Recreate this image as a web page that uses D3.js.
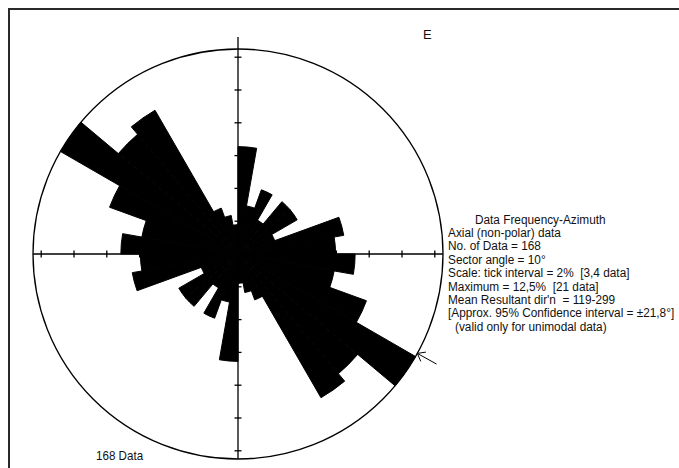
<!DOCTYPE html>
<html>
<head>
<meta charset="utf-8">
<script src="https://cdn.jsdelivr.net/npm/d3@7"></script>
<style>
    body { margin: 0; background: #fff; }
    svg { display: block; }
    text { font-family: "Liberation Sans", Arial, sans-serif; fill: #111; white-space: pre; }
</style>
</head>
<body>
<div id="rose"></div>
<script>
// sectors of 10 degrees, axial data (0-180 mirrored onto 180-360)
const sectorStarts = [0, 10, 20, 30, 40, 50, 60, 70, 80, 90, 100, 110, 120, 130, 140, 150, 160, 170];
const sectorCounts = [11, 5, 7, 4, 7, 7, 4, 11, 10, 12, 10, 14, 21, 16, 17, 5, 4, 3];
const totalData = 168;
const maxPercent = 12.5;
const tickPercents = [2, 4, 6, 8, 10, 12];
const meanDirection = 119;

const infoTitle = "Data Frequency-Azimuth";
const infoLines = [
    "Axial (non-polar) data",
    "No. of Data = 168",
    "Sector angle = 10°",
    "Scale: tick interval = 2%  [3,4 data]",
    "Maximum = 12,5%  [21 data]",
    "Mean Resultant dir'n  = 119-299",
    "[Approx. 95% Confidence interval = ±21,8°]"
];
const infoNote = "(valid only for unimodal data)";

class RoseDiagram {
    constructor(parentElement) {
        this.parentElement = parentElement;
        this.initVis();
    }

    initVis() {
        let vis = this;

        vis.width = 679;
        vis.height = 468;
        vis.cx = 238;
        vis.cy = 254;
        vis.radius = 205;

        vis.svgRoot = d3.select("#" + vis.parentElement)
            .append("svg")
            .attr("width", vis.width)
            .attr("height", vis.height);

        // frame (top and left edges only)
        vis.svgRoot.append("path")
            .attr("d", `M9,${vis.height} L9,9 L${vis.width},9`)
            .attr("fill", "none")
            .attr("stroke", "#2a2a2a")
            .attr("stroke-width", 2);

        vis.svg = vis.svgRoot.append("g")
            .attr("transform", `translate(${vis.cx}, ${vis.cy})`);

        vis.r = d3.scaleLinear()
            .domain([0, maxPercent])
            .range([0, vis.radius]);

        vis.arc = d3.arc()
            .innerRadius(0)
            .outerRadius(d => vis.r(d.percent))
            .startAngle(d => d.start * Math.PI / 180)
            .endAngle(d => (d.start + 10) * Math.PI / 180);

        vis.wrangleData();
    }

    wrangleData() {
        let vis = this;

        vis.displayData = [];
        sectorStarts.forEach((s, i) => {
            let pct = sectorCounts[i] / totalData * 100;
            vis.displayData.push({ start: s, percent: pct });
            vis.displayData.push({ start: s + 180, percent: pct });
        });

        vis.updateVis();
    }

    updateVis() {
        let vis = this;
        const R = vis.radius;

        // petals: thin black outline hides anti-aliasing seams between sectors
        vis.svg.selectAll(".petal")
            .data(vis.displayData)
            .enter()
            .append("path")
            .attr("class", "petal")
            .attr("d", vis.arc)
            .attr("fill", "#000")
            .attr("stroke", "#000")
            .attr("stroke-width", 1)
            .attr("stroke-linejoin", "round");

        vis.svg.append("circle")
            .attr("r", R)
            .attr("fill", "none")
            .attr("stroke", "#000")
            .attr("stroke-width", 1.3);

        // axes
        vis.svg.append("line")
            .attr("x1", 0).attr("x2", 0)
            .attr("y1", -R - 12).attr("y2", R)
            .attr("stroke", "#000").attr("stroke-width", 1.3);
        vis.svg.append("line")
            .attr("x1", -R).attr("x2", R)
            .attr("y1", 0).attr("y2", 0)
            .attr("stroke", "#000").attr("stroke-width", 1.3);

        // ticks along both axes, in both directions
        const tickData = [];
        tickPercents.forEach(p => {
            [-1, 1].forEach(sign => {
                tickData.push({ p: p, sign: sign, vertical: true });
                tickData.push({ p: p, sign: sign, vertical: false });
            });
        });

        vis.svg.selectAll(".tick")
            .data(tickData)
            .enter()
            .append("line")
            .attr("class", "tick")
            .attr("x1", d => d.vertical ? -3.5 : d.sign * vis.r(d.p))
            .attr("x2", d => d.vertical ? 3.5 : d.sign * vis.r(d.p))
            .attr("y1", d => d.vertical ? d.sign * vis.r(d.p) : -3.5)
            .attr("y2", d => d.vertical ? d.sign * vis.r(d.p) : 3.5)
            .attr("stroke", "#000")
            .attr("stroke-width", 1.3);

        // mean resultant direction arrow
        const a = meanDirection * Math.PI / 180;
        const pt = (rr, ang) => [rr * Math.sin(ang), -rr * Math.cos(ang)];
        const tip = pt(R, a);
        const tail = pt(R + 22, a);
        const w1 = pt(R + 7, a + 0.025);
        const w2 = pt(R + 7, a - 0.025);
        vis.svg.append("line")
            .attr("x1", tail[0]).attr("y1", tail[1])
            .attr("x2", tip[0]).attr("y2", tip[1])
            .attr("stroke", "#000").attr("stroke-width", 1);
        vis.svg.append("path")
            .attr("d", `M${w1[0]},${w1[1]} L${tip[0]},${tip[1]} L${w2[0]},${w2[1]}`)
            .attr("fill", "none")
            .attr("stroke", "#000").attr("stroke-width", 1);

        // labels
        vis.svgRoot.append("text")
            .attr("x", 423)
            .attr("y", 39)
            .style("font-size", "13px")
            .text("E");

        vis.svgRoot.append("text")
            .attr("transform", "translate(96, 459.5) scale(0.93, 1)")
            .style("font-size", "12.5px")
            .text("168 Data");

        const info = vis.svgRoot.append("g");
        const lineH = 13.4;
        const y0 = 223.5;
        const sx = 0.945;

        info.append("text")
            .attr("transform", `translate(475, ${y0}) scale(${sx}, 1)`)
            .style("font-size", "12.5px")
            .text(infoTitle);

        info.selectAll(".info-line")
            .data(infoLines)
            .enter()
            .append("text")
            .attr("class", "info-line")
            .attr("transform", (d, i) => `translate(448, ${y0 + (i + 1) * lineH}) scale(${sx}, 1)`)
            .style("font-size", "12.5px")
            .text(d => d);

        info.append("text")
            .attr("transform", `translate(455, ${y0 + (infoLines.length + 1) * lineH}) scale(${sx}, 1)`)
            .style("font-size", "12.5px")
            .text(infoNote);
    }
}

new RoseDiagram("rose");
</script>
</body>
</html>
